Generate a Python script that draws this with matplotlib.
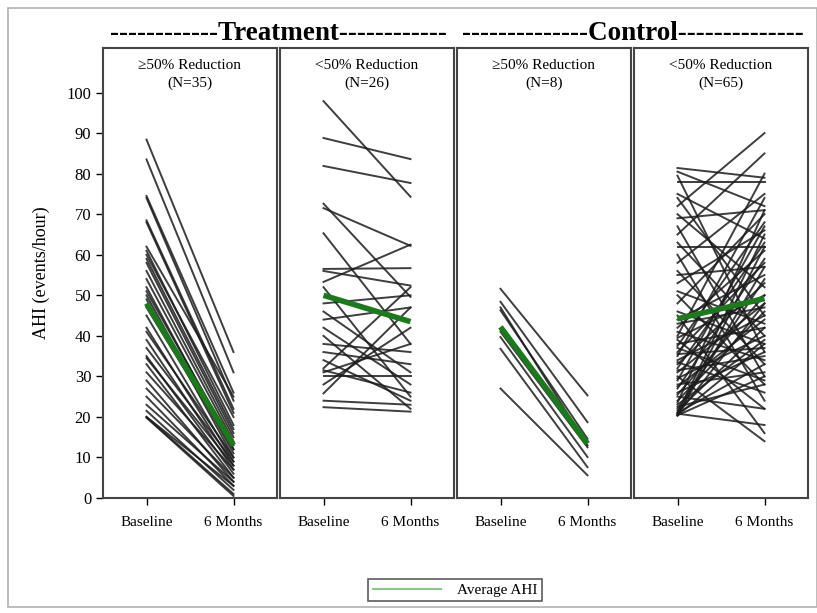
import numpy as np
import matplotlib
matplotlib.use('Agg')
import matplotlib.pyplot as plt
from matplotlib.lines import Line2D
from matplotlib.patches import Rectangle

plt.rcParams['font.family'] = ['Liberation Serif', 'DejaVu Serif']

timepoints = ['Baseline', '6 Months']
panel_titles = ['\u226550% Reduction\n(N=35)', '<50% Reduction\n(N=26)',
                '\u226550% Reduction\n(N=8)', '<50% Reduction\n(N=65)']
group_titles = ['------------Treatment------------', '--------------Control--------------']

# treatment, >=50% reduction
t_resp_base = [88.4, 83.5, 74.5, 74, 68.5, 68, 62, 61, 60, 59, 58, 56, 54, 52, 51, 50, 49, 47,
               45, 42, 41, 39, 37, 35, 34.5, 33, 31, 29, 27, 25, 23, 21.5, 20, 20, 19.8]
t_resp_6mo = [36, 31, 26, 24, 22, 21, 25, 18, 20, 17, 16, 15, 14, 12, 13, 11, 10, 12,
              9, 8, 10, 7, 9, 6, 8, 5, 7, 4, 5, 3, 4, 2, 3, 1, 0.5]
# treatment, <50% reduction
t_non_base = [97.9, 88.8, 81.9, 72.6, 71.5, 65.3, 56.5, 56, 53.3, 52, 48, 46, 44, 42, 40, 38,
              36, 34, 32, 31.5, 31, 30, 28, 25.8, 24, 22.4]
t_non_6mo = [74.3, 83.6, 77.7, 49.6, 62.2, 38, 56.7, 52.4, 62.5, 25, 50, 31, 47, 28, 22, 36,
             33, 24, 52, 26, 38, 30, 42, 47, 23, 21.3]
# control, >=50% reduction
c_resp_base = [51.6, 48.4, 46.3, 47, 41, 39.7, 36.8, 27]
c_resp_6mo = [25.3, 18.7, 14.6, 13, 12.5, 10.1, 7.6, 5.6]
# control, <50% reduction
c_non_base = [81.4, 80.5, 79.5, 78, 75, 74, 72, 70, 69, 67, 65, 63, 62, 60, 58, 56, 55, 53, 51, 50,
              48, 46, 45, 44, 43, 42, 41, 40, 39.5, 39, 38, 37.5, 37, 36, 35.5, 35, 34, 33.5, 33, 32,
              31.5, 31, 30, 29.5, 29, 28, 27.5, 27, 26, 25.5, 25, 24, 23.5, 23, 22.5, 22, 21.5, 21, 21,
              20.8, 20.6, 20.5, 20.4, 20.4, 20.3]
c_non_6mo = [79, 72, 36, 78, 64, 45, 90, 52, 71, 30, 85, 40, 62, 24, 75, 33, 57, 66, 43, 28,
             70, 38, 16, 55, 47, 61, 34, 80, 50, 22, 42, 68, 29, 58, 37, 74, 45, 26, 53, 63,
             35, 48, 14, 40, 67, 31, 44, 59, 36, 50, 22, 46, 71, 39, 28, 54, 42, 65, 33, 18,
             48, 57, 38, 30, 62]

avg_base = [48, 50, 42.2, 44.2]
avg_6mo = [13, 43.5, 13.4, 49.2]

panels = [(t_resp_base, t_resp_6mo), (t_non_base, t_non_6mo),
          (c_resp_base, c_resp_6mo), (c_non_base, c_non_6mo)]

W, H = 817, 613
fig = plt.figure(figsize=(W / 100, H / 100), dpi=100)
fig.patches.append(Rectangle((8 / W, 1 - 607 / H), (W - 8) / W, 599 / H, transform=fig.transFigure,
                             fill=False, edgecolor='#b0b0b0', lw=1.2))

lefts = [103, 280, 457, 634]
pw = 174
bottom = (H - 498) / H
height = 450 / H
axes = []
for i, (base, six) in enumerate(panels):
    ax = fig.add_axes([lefts[i] / W, bottom, pw / W, height])
    for b, s in zip(base, six):
        ax.plot([0, 1], [b, s], color='#1c1c1c', lw=1.4, alpha=0.85)
    ax.plot([0, 1], [avg_base[i], avg_6mo[i]], color='#1b7a1b', lw=4, solid_capstyle='butt')
    ax.set_xlim(-0.5, 1.5)
    ax.set_ylim(0, 111)
    ax.set_xticks([0, 1])
    ax.set_xticklabels(timepoints, fontsize=11)
    ax.tick_params(axis='x', direction='out', length=5, width=1, pad=8)
    if i == 0:
        ax.set_yticks(range(0, 101, 10))
        ax.tick_params(axis='y', direction='out', length=5, width=1, labelsize=12)
        ax.set_ylabel('AHI (events/hour)', fontsize=13, labelpad=12)
    else:
        ax.set_yticks([])
    for sp in ax.spines.values():
        sp.set_color('#444444')
        sp.set_linewidth(1.5)
    ax.text(0.5, 0.975, panel_titles[i], transform=ax.transAxes, ha='center', va='top',
            fontsize=11, linespacing=1.4)
    axes.append(ax)

fig.text((lefts[0] + lefts[1] + pw) / 2 / W, 1 - 33 / H, group_titles[0], ha='center', va='center',
         fontsize=19.5, fontweight='bold')
fig.text((lefts[2] + lefts[3] + pw) / 2 / W, 1 - 33 / H, group_titles[1], ha='center', va='center',
         fontsize=19.5, fontweight='bold')

handle = Line2D([], [], color='#8cc88c', lw=1.5)
leg = fig.legend([handle], ['Average AHI'], loc='center', bbox_to_anchor=(455 / W, 1 - 590 / H),
                 fontsize=11, frameon=True, fancybox=False, handlelength=4.5, borderpad=0.3,
                 handletextpad=1.0)
leg.get_frame().set_edgecolor('#333333')
leg.get_frame().set_linewidth(1.2)

fig.savefig('out.png', dpi=100)
